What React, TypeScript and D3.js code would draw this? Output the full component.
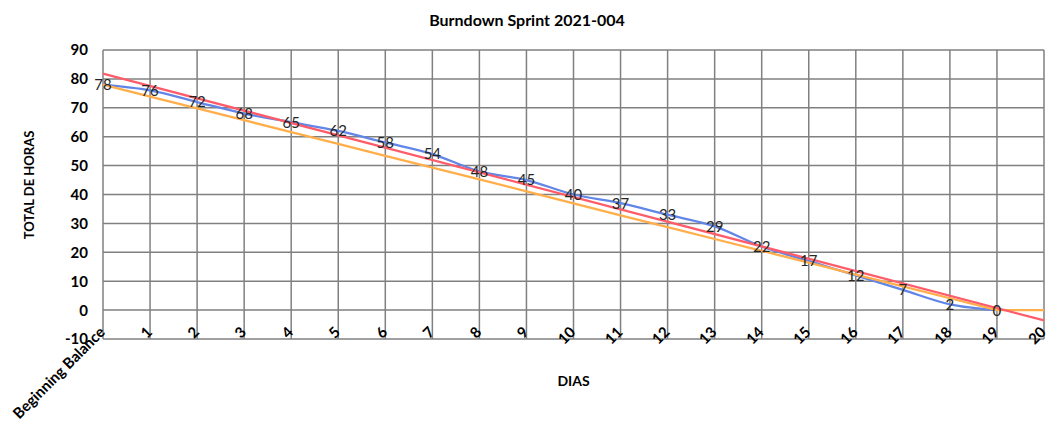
import React from "react";
import * as d3 from "d3";

const title = "Burndown Sprint 2021-004";
const xTitle = "DIAS";
const yTitle = "TOTAL DE HORAS";
const categories = ["Beginning Balance", "1", "2", "3", "4", "5", "6", "7", "8", "9", "10", "11", "12", "13", "14", "15", "16", "17", "18", "19", "20"];
const actual = [78, 76, 72, 68, 65, 62, 58, 54, 48, 45, 40, 37, 33, 29, 22, 17, 12, 7, 2, 0];
const ideal = [78, 73.9, 69.8, 65.7, 61.6, 57.5, 53.4, 49.3, 45.2, 41.1, 36.9, 32.8, 28.7, 24.6, 20.5, 16.4, 12.3, 8.2, 4.1, 0, 0];
const yTicks = [-10, 0, 10, 20, 30, 40, 50, 60, 70, 80, 90];

const W = 1060, H = 441;
const plot = { left: 103, right: 1044, top: 50, bottom: 339 };

export default function App() {
  const x = d3.scalePoint<string>().domain(categories).range([plot.left, plot.right]);
  const y = d3.scaleLinear().domain([-10, 90]).range([plot.bottom, plot.top]);

  // linear trendline of actual series (least squares)
  const xs = actual.map((_, i) => i);
  const mx = d3.mean(xs)!;
  const my = d3.mean(actual)!;
  const sxy = d3.sum(xs, (xi, i) => (xi - mx) * (actual[i] - my));
  const sxx = d3.sum(xs, (xi) => (xi - mx) * (xi - mx));
  const slope = sxy / sxx;
  const intercept = my - slope * mx;
  const trend = [0, categories.length - 1].map((i) => ({ i, v: intercept + slope * i }));

  const smooth = d3
    .line<number>()
    .x((_, i) => x(categories[i])!)
    .y((d) => y(d))
    .curve(d3.curveCatmullRom.alpha(0.5));
  const straight = d3
    .line<number>()
    .x((_, i) => x(categories[i])!)
    .y((d) => y(d));
  const trendLine = d3
    .line<{ i: number; v: number }>()
    .x((d) => x(categories[d.i])!)
    .y((d) => y(d.v));

  const grid = "#808080";
  const boldFont = "Lato, 'Open Sans', sans-serif";

  return (
    <svg width={W} height={H} style={{ position: "absolute", left: 0, top: 0, background: "#fff" }}>
      <rect x={0} y={0} width={W} height={H} fill="#fff" />
      {/* horizontal gridlines */}
      {yTicks.map((t) => (
        <line key={"h" + t} x1={plot.left} x2={plot.right} y1={y(t)} y2={y(t)} stroke={grid} strokeWidth={1.5} />
      ))}
      {/* vertical gridlines */}
      {categories.map((c) => (
        <line key={"v" + c} x1={x(c)} x2={x(c)} y1={plot.top} y2={plot.bottom} stroke={grid} strokeWidth={1.5} />
      ))}
      {/* y tick labels */}
      {yTicks.map((t) => (
        <text key={"yl" + t} x={88} y={y(t)} dy="0.36em" textAnchor="end" fontFamily={boldFont} fontWeight={700} fontSize={15} fill="#000">
          {t}
        </text>
      ))}
      {/* x tick labels */}
      {categories.map((c) => (
        <text
          key={"xl" + c}
          transform={`translate(${x(c)! + 3},${plot.bottom - 6}) rotate(-45)`}
          textAnchor="end"
          fontFamily={boldFont}
          fontWeight={700}
          fontSize={15}
          fill="#000"
        >
          {c}
        </text>
      ))}
      {/* series */}
      <path d={smooth(actual)!} fill="none" stroke="#6186e8" strokeWidth={2.3} />
      <path d={straight(ideal)!} fill="none" stroke="#ffae4a" strokeWidth={2.3} />
      <path d={trendLine(trend)!} fill="none" stroke="#ff5c6a" strokeWidth={2.3} />
      {/* data labels */}
      {actual.map((v, i) => (
        <text key={"dl" + i} x={x(categories[i])} y={y(v)} dy="0.36em" textAnchor="middle" fontFamily="Lato, sans-serif" fontWeight={400} fontSize={15} fill="#262626">
          {v}
        </text>
      ))}
      {/* titles */}
      <text x={527} y={20} dy="0.35em" textAnchor="middle" fontFamily={boldFont} fontWeight={700} fontSize={16} fill="#000">
        {title}
      </text>
      <text x={(plot.left + plot.right) / 2} y={381} dy="0.35em" textAnchor="middle" fontFamily={boldFont} fontWeight={700} fontSize={14} fill="#000">
        {xTitle}
      </text>
      <text transform={`translate(29,185) rotate(-90)`} dy="0.35em" textAnchor="middle" fontFamily={boldFont} fontWeight={700} fontSize={13} fill="#000">
        {yTitle}
      </text>
    </svg>
  );
}
